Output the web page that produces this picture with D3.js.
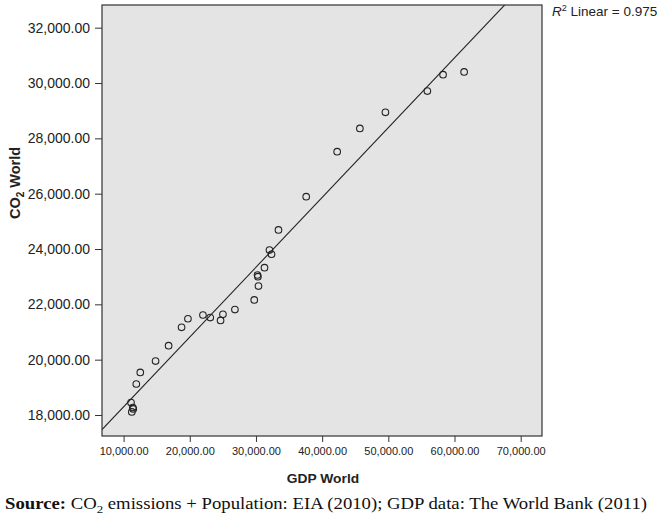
<!DOCTYPE html>
<html>
<head>
<meta charset="utf-8">
<script src="https://cdn.jsdelivr.net/npm/d3@7"></script>
<style>
  body { margin: 0; background: #fff; }
  svg { display: block; }
</style>
</head>
<body>
<svg id="chart" width="658" height="516"></svg>
<script>
// GDP World vs CO2 World scatter with linear fit
const gdpWorld = [
    11120, 11390, 11460, 11240, 11920, 12520, 14830, 16800, 18760, 19720,
    21990, 23090, 24650, 25010, 26820, 29740, 30380, 30230, 30290, 31290,
    32350, 32040, 33400, 37590, 42270, 45700, 49560, 55900, 58270, 61450
];
const co2World = [
    18450, 18270, 18220, 18110, 19120, 19540, 19950, 20505, 21170, 21480,
    21615, 21520, 21420, 21640, 21810, 22160, 22660, 23060, 23000, 23325,
    23810, 23960, 24690, 25890, 27520, 28360, 28940, 29710, 30300, 30400
];
const xTicks = [10000, 20000, 30000, 40000, 50000, 60000, 70000];
const yTicks = [18000, 20000, 22000, 24000, 26000, 28000, 30000, 32000];
const rSquaredLabel = '0.975';

window.addEventListener('DOMContentLoaded', () => {
    const svg = d3.select('#chart');
    const plot = { left: 102, right: 542, top: 5, bottom: 436 };
    const sans = 'Liberation Sans, Arial, sans-serif';

    const x = d3.scaleLinear().domain([6737, 73220]).range([plot.left, plot.right]);
    const y = d3.scaleLinear().domain([17241, 32820]).range([plot.bottom, plot.top]);
    const fmt = d3.format(',.2f');

    // Plot background
    svg.append('rect')
        .attr('x', plot.left).attr('y', plot.top)
        .attr('width', plot.right - plot.left)
        .attr('height', plot.bottom - plot.top)
        .attr('fill', '#e4e4e4');

    // Axes
    const xAxis = svg.append('g')
        .attr('transform', `translate(0,${plot.bottom})`)
        .call(d3.axisBottom(x).tickValues(xTicks).tickFormat(fmt).tickSize(6).tickSizeOuter(0));
    const yAxis = svg.append('g')
        .attr('transform', `translate(${plot.left},0)`)
        .call(d3.axisLeft(y).tickValues(yTicks).tickFormat(fmt).tickSize(7).tickSizeOuter(0));

    [xAxis, yAxis].forEach(g => {
        g.select('.domain').remove();
        g.selectAll('line').attr('stroke', '#333');
        g.selectAll('text')
            .attr('fill', '#222')
            .style('font-family', sans);
    });
    xAxis.selectAll('text').attr('dy', '0.95em').style('font-size', '11px');
    yAxis.selectAll('text').attr('x', -12).style('font-size', '14px');

    // Linear fit (least squares)
    const mx = d3.mean(gdpWorld), my = d3.mean(co2World);
    let sxy = 0, sxx = 0;
    gdpWorld.forEach((g, i) => {
        sxy += (g - mx) * (co2World[i] - my);
        sxx += (g - mx) * (g - mx);
    });
    const slope = sxy / sxx;
    const intercept = my - slope * mx;

    svg.append('clipPath').attr('id', 'plotClip')
        .append('rect')
        .attr('x', plot.left).attr('y', plot.top)
        .attr('width', plot.right - plot.left)
        .attr('height', plot.bottom - plot.top);

    const xd = x.domain();
    svg.append('line')
        .attr('clip-path', 'url(#plotClip)')
        .attr('x1', x(xd[0])).attr('y1', y(intercept + slope * xd[0]))
        .attr('x2', x(xd[1])).attr('y2', y(intercept + slope * xd[1]))
        .attr('stroke', '#222')
        .attr('stroke-width', 1.1);

    // Points
    svg.append('g')
        .selectAll('circle')
        .data(gdpWorld.map((g, i) => [g, co2World[i]]))
        .join('circle')
        .attr('cx', d => x(d[0]))
        .attr('cy', d => y(d[1]))
        .attr('r', 3.3)
        .attr('fill', 'none')
        .attr('stroke', '#222')
        .attr('stroke-width', 1.1);

    // Frame
    svg.append('rect')
        .attr('x', plot.left).attr('y', plot.top)
        .attr('width', plot.right - plot.left)
        .attr('height', plot.bottom - plot.top)
        .attr('fill', 'none')
        .attr('stroke', '#333')
        .attr('stroke-width', 1.2);

    // Axis titles
    svg.append('text')
        .attr('transform', `translate(${(plot.left + plot.right) / 2 + 1},483) scale(1.15,1)`)
        .attr('text-anchor', 'middle')
        .style('font-family', sans)
        .style('font-size', '12px')
        .style('font-weight', 'bold')
        .attr('fill', '#222')
        .text('GDP World');

    const yTitle = svg.append('text')
        .attr('transform', 'translate(20,183) rotate(-90)')
        .attr('text-anchor', 'middle')
        .style('font-family', sans)
        .style('font-size', '14.5px')
        .style('font-weight', 'bold')
        .attr('fill', '#222');
    yTitle.append('tspan').text('CO');
    yTitle.append('tspan').attr('dy', 4).style('font-size', '10px').text('2');
    yTitle.append('tspan').attr('dy', -4).text(' World');

    // R squared label
    const r2 = svg.append('text')
        .attr('x', 552)
        .attr('y', 16)
        .style('font-family', sans)
        .style('font-size', '13.5px')
        .attr('fill', '#222');
    r2.append('tspan').style('font-style', 'italic').text('R');
    r2.append('tspan').attr('dy', -5).style('font-size', '9px').text('2');
    r2.append('tspan').attr('dy', 5).text(' Linear = ' + rSquaredLabel);

    // Source line
    const src = svg.append('text')
        .attr('transform', 'translate(5,509) scale(1.17,1)')
        .style('font-family', 'Liberation Serif, Times New Roman, serif')
        .style('font-size', '16px')
        .attr('fill', '#111');
    src.append('tspan').style('font-weight', 'bold').text('Source:');
    src.append('tspan').text(' CO');
    src.append('tspan').attr('dy', 4).style('font-size', '11px').text('2');
    src.append('tspan').attr('dy', -4).text(' emissions + Population: EIA (2010); GDP data: The World Bank (2011)');
});
</script>
</body>
</html>
